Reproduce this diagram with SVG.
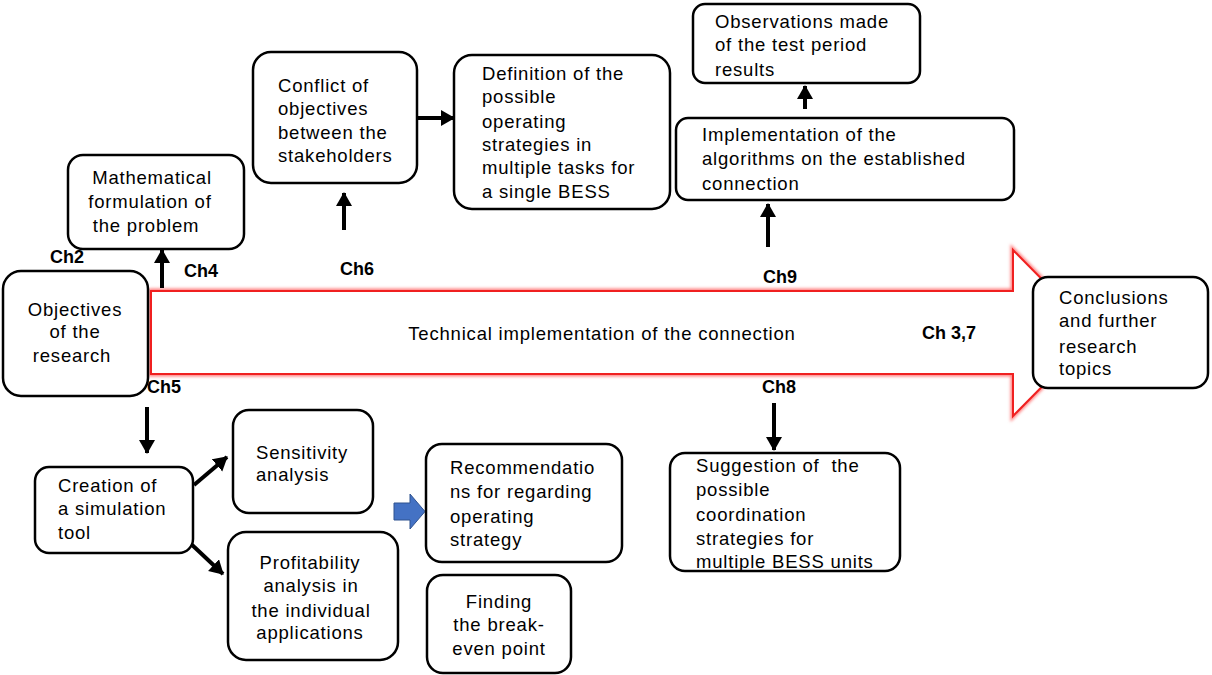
<svg xmlns="http://www.w3.org/2000/svg" width="1212" height="675" viewBox="0 0 1212 675">
<defs>
<marker id="ah" markerUnits="userSpaceOnUse" markerWidth="18" markerHeight="18" refX="13" refY="8" orient="auto">
<path d="M0,0 L14,8 L0,16 Z" fill="#000"/>
</marker>
<filter id="glow" x="-5%" y="-5%" width="110%" height="110%"><feGaussianBlur stdDeviation="1.5"/></filter>
</defs>
<style>
.box{fill:#fff;stroke:#000;stroke-width:2.5}
.t{font-family:"Liberation Sans",Arial,sans-serif;font-size:18.5px;letter-spacing:0.8px;fill:#000}
.c{text-anchor:middle}
.b{font-family:"Liberation Sans",Arial,sans-serif;font-size:18px;font-weight:bold;fill:#000}
.con{stroke:#000;stroke-width:4;fill:none;marker-end:url(#ah)}
</style>
<g id="bigarrow">
<path d="M151,291 H1013 V250 L1095,333 L1013,416 V374 H151 Z" fill="#fff" stroke="#ff8080" stroke-width="5" filter="url(#glow)"/>
<path d="M151,291 H1013 V250 L1095,333 L1013,416 V374 H151 Z" fill="#fff" stroke="#f02020" stroke-width="2"/>
<text class="t c" x="602" y="340">Technical implementation of the connection</text>
</g>
<g id="connectors">
<line class="con" x1="162" y1="288" x2="162" y2="250"/>
<line class="con" x1="344" y1="230" x2="344" y2="193"/>
<line class="con" x1="418" y1="118" x2="454" y2="118"/>
<line class="con" x1="805" y1="109" x2="805" y2="86"/>
<line class="con" x1="768" y1="247" x2="768" y2="204"/>
<line class="con" x1="774" y1="403" x2="774" y2="450"/>
<line class="con" x1="147" y1="407" x2="147" y2="453"/>
<line class="con" x1="194" y1="485" x2="227" y2="457"/>
<line class="con" x1="190" y1="543" x2="223" y2="574"/>
<path d="M394,503 H410 V494 L425,511.5 L410,529 V520 H394 Z" fill="#4472C4" stroke="#2F528F" stroke-width="1"/>
</g>
<g id="labels">
<text class="b" x="50" y="263">Ch2</text>
<text class="b" x="184" y="277">Ch4</text>
<text class="b" x="147" y="393">Ch5</text>
<text class="b" x="340" y="275">Ch6</text>
<text class="b" x="763" y="283">Ch9</text>
<text class="b" x="762" y="393">Ch8</text>
<text class="b" x="922" y="339">Ch 3,7</text>
</g>
<g id="objectives">
<rect class="box" x="3" y="271" width="145" height="125" rx="18"/>
<text class="t c" x="75" y="316">Objectives</text>
<text class="t c" x="75" y="338">of the</text>
<text class="t c" x="72" y="362">research</text>
</g>
<g id="mathematical">
<rect class="box" x="68" y="155" width="176" height="94" rx="15"/>
<text class="t c" x="152" y="184">Mathematical</text>
<text class="t c" x="150" y="208">formulation of</text>
<text class="t c" x="146" y="232">the problem</text>
</g>
<g id="conflict">
<rect class="box" x="253" y="52" width="164" height="131" rx="18"/>
<text class="t" x="278" y="92">Conflict of</text>
<text class="t" x="278" y="115">objectives</text>
<text class="t" x="278" y="139">between the</text>
<text class="t" x="278" y="162">stakeholders</text>
</g>
<g id="definition">
<rect class="box" x="454" y="55" width="216" height="154" rx="18"/>
<text class="t" x="482" y="80">Definition of the</text>
<text class="t" x="482" y="103">possible</text>
<text class="t" x="482" y="128">operating</text>
<text class="t" x="482" y="151">strategies in</text>
<text class="t" x="482" y="174">multiple tasks for</text>
<text class="t" x="482" y="198">a single BESS</text>
</g>
<g id="observations">
<rect class="box" x="693" y="4" width="227" height="79" rx="12"/>
<text class="t" x="715" y="28">Observations made</text>
<text class="t" x="715" y="51">of the test period</text>
<text class="t" x="715" y="76">results</text>
</g>
<g id="implementation">
<rect class="box" x="676" y="118" width="338" height="82" rx="12"/>
<text class="t" x="702" y="141">Implementation of the</text>
<text class="t" x="702" y="165">algorithms on the established</text>
<text class="t" x="702" y="190">connection</text>
</g>
<g id="conclusions">
<rect class="box" x="1033" y="277" width="175" height="111" rx="15"/>
<text class="t" x="1059" y="304">Conclusions</text>
<text class="t" x="1059" y="327">and further</text>
<text class="t" x="1059" y="353">research</text>
<text class="t" x="1059" y="375">topics</text>
</g>
<g id="suggestion">
<rect class="box" x="670" y="453" width="230" height="118" rx="15"/>
<text class="t" x="696" y="472">Suggestion of&#160; the</text>
<text class="t" x="696" y="496">possible</text>
<text class="t" x="696" y="521">coordination</text>
<text class="t" x="696" y="545">strategies for</text>
<text class="t" x="696" y="568">multiple BESS units</text>
</g>
<g id="creation">
<rect class="box" x="35" y="467" width="158" height="86" rx="14"/>
<text class="t" x="58" y="492">Creation of</text>
<text class="t" x="58" y="515">a simulation</text>
<text class="t" x="58" y="539">tool</text>
</g>
<g id="sensitivity">
<rect class="box" x="233" y="410" width="140" height="103" rx="16"/>
<text class="t" x="256" y="459">Sensitivity</text>
<text class="t" x="256" y="481">analysis</text>
</g>
<g id="profitability">
<rect class="box" x="228" y="532" width="170" height="128" rx="18"/>
<text class="t c" x="310" y="569">Profitability</text>
<text class="t c" x="311" y="592">analysis in</text>
<text class="t c" x="311" y="617">the individual</text>
<text class="t c" x="310" y="639">applications</text>
</g>
<g id="recommendations">
<rect class="box" x="426" y="444" width="196" height="118" rx="16"/>
<text class="t" x="450" y="474">Recommendatio</text>
<text class="t" x="450" y="498">ns for regarding</text>
<text class="t" x="450" y="523">operating</text>
<text class="t" x="450" y="546">strategy</text>
</g>
<g id="finding">
<rect class="box" x="427" y="575" width="144" height="98" rx="16"/>
<text class="t c" x="499" y="608">Finding</text>
<text class="t c" x="499" y="631">the break-</text>
<text class="t c" x="499" y="655">even point</text>
</g>
</svg>
